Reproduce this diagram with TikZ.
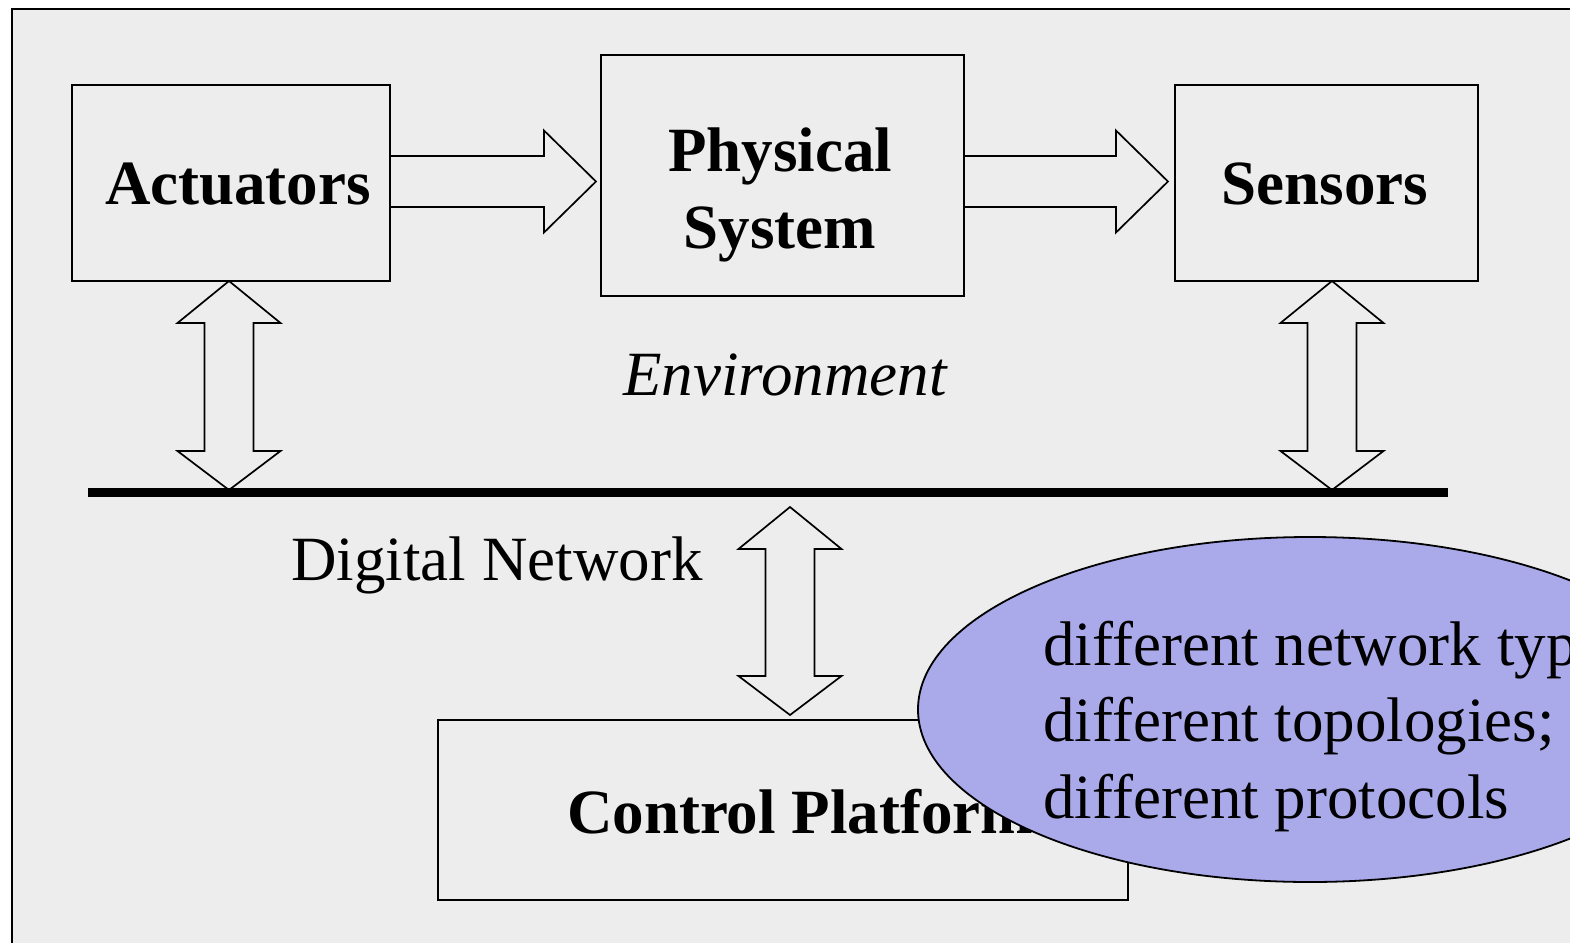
\documentclass[tikz,border=0pt]{standalone}
\usepackage{fontspec}
\setmainfont{Liberation Serif}
\usetikzlibrary{calc,shapes.geometric}
\definecolor{paper}{gray}{0.93}
\definecolor{notefill}{RGB}{170,170,235}
\tikzset{
  box/.style={draw, line width=0.95pt, inner sep=0pt},
  blockarrow/.style={draw, line width=0.85pt, line join=miter},
  lbl/.style={inner sep=0pt, anchor=base, font=\fontsize{31.5}{38}\selectfont},
  blbl/.style={lbl, font=\fontsize{31.5}{38}\selectfont\bfseries},
  notelbl/.style={lbl, anchor=base west},
}
% right-pointing block arrow: #1 tail point, #2 tip point
\newcommand\rightblock[2]{%
  \draw[blockarrow] ($(#1)+(0,-25.5)$) -- ($(#2)+(-52,-25.5)$) -- ($(#2)+(-52,-51)$)
    -- (#2) -- ($(#2)+(-52,51)$) -- ($(#2)+(-52,25.5)$) -- ($(#1)+(0,25.5)$);}
% vertical double block arrow: #1 top tip, #2 bottom tip
\newcommand\updownblock[2]{%
  \draw[blockarrow] (#1) -- ++(51.5,42) -- ++(-27,0) -- ($(#2)+(24.5,-39)$)
    -- ++(27,0) -- (#2) -- ++(-51.5,-39) -- ++(27,0) -- ($(#1)+(-24.5,42)$)
    -- ++(-27,0) -- cycle;}
\begin{document}
\begin{tikzpicture}[x=0.5pt, y=-0.5pt]
\useasboundingbox (0,0) rectangle (1570,943);
\clip (0,0) rectangle (1570,943);
\fill[white] (0,0) rectangle (1570,943);
\draw[fill=paper, line width=1.1pt] (12,9) rectangle (1600,980);

% blocks
\node[box, minimum width=159pt, minimum height=98pt] (act) at (231,183) {};
\node[box, minimum width=181.5pt, minimum height=120.5pt] (phys) at (782.5,175.5) {};
\node[box, minimum width=151.5pt, minimum height=98pt] (sens) at (1326.5,183) {};
\node[box, minimum width=345pt, minimum height=90pt] (ctrl) at (783,810) {};

\node[blbl] (acttxt) at (238,204) {Actuators};
\node[blbl] (phystxt1) at (780,171) {Physical};
\node[blbl] (phystxt2) at (780,248) {System};
\node[blbl] (senstxt) at (1325,204) {Sensors};
\node[blbl] (ctrltxt) at (800,833) {Control Platform};

% signal flow between blocks
\coordinate (a1tail) at (act.east |- 0,181.5);
\coordinate (a1tip) at (596,181.5);
\coordinate (a2tail) at (phys.east |- 0,181.5);
\coordinate (a2tip) at (1168,181.5);
\rightblock{a1tail}{a1tip}
\rightblock{a2tail}{a2tip}

% links to the network bus
\coordinate (lt) at (229,281);  \coordinate (lb) at (229,490);
\coordinate (rt) at (1332,281); \coordinate (rb) at (1332,490);
\coordinate (mt) at (790,507);  \coordinate (mb) at (790,715);
\updownblock{lt}{lb}
\updownblock{rt}{rb}
\updownblock{mt}{mb}

% network bus
\coordinate (busL) at (88,492);
\coordinate (busR) at (1448,492);
\draw[line width=4.5pt] (busL) -- (busR);

\node[lbl, font=\fontsize{31.5}{38}\selectfont\itshape] (env) at (785,395) {Environment};
\node[lbl] (dnet) at (497,580) {Digital Network};

% callout
\node[ellipse, draw, line width=0.9pt, fill=notefill, inner sep=0pt,
      minimum width=392pt, minimum height=172.5pt] (note) at (1310,709.5) {};
\node[notelbl] (n1) at (1043,665) {different network types;};
\node[notelbl] (n2) at (1043,741) {different topologies;};
\node[notelbl] (n3) at (1043,818) {different protocols};
\end{tikzpicture}
\end{document}
